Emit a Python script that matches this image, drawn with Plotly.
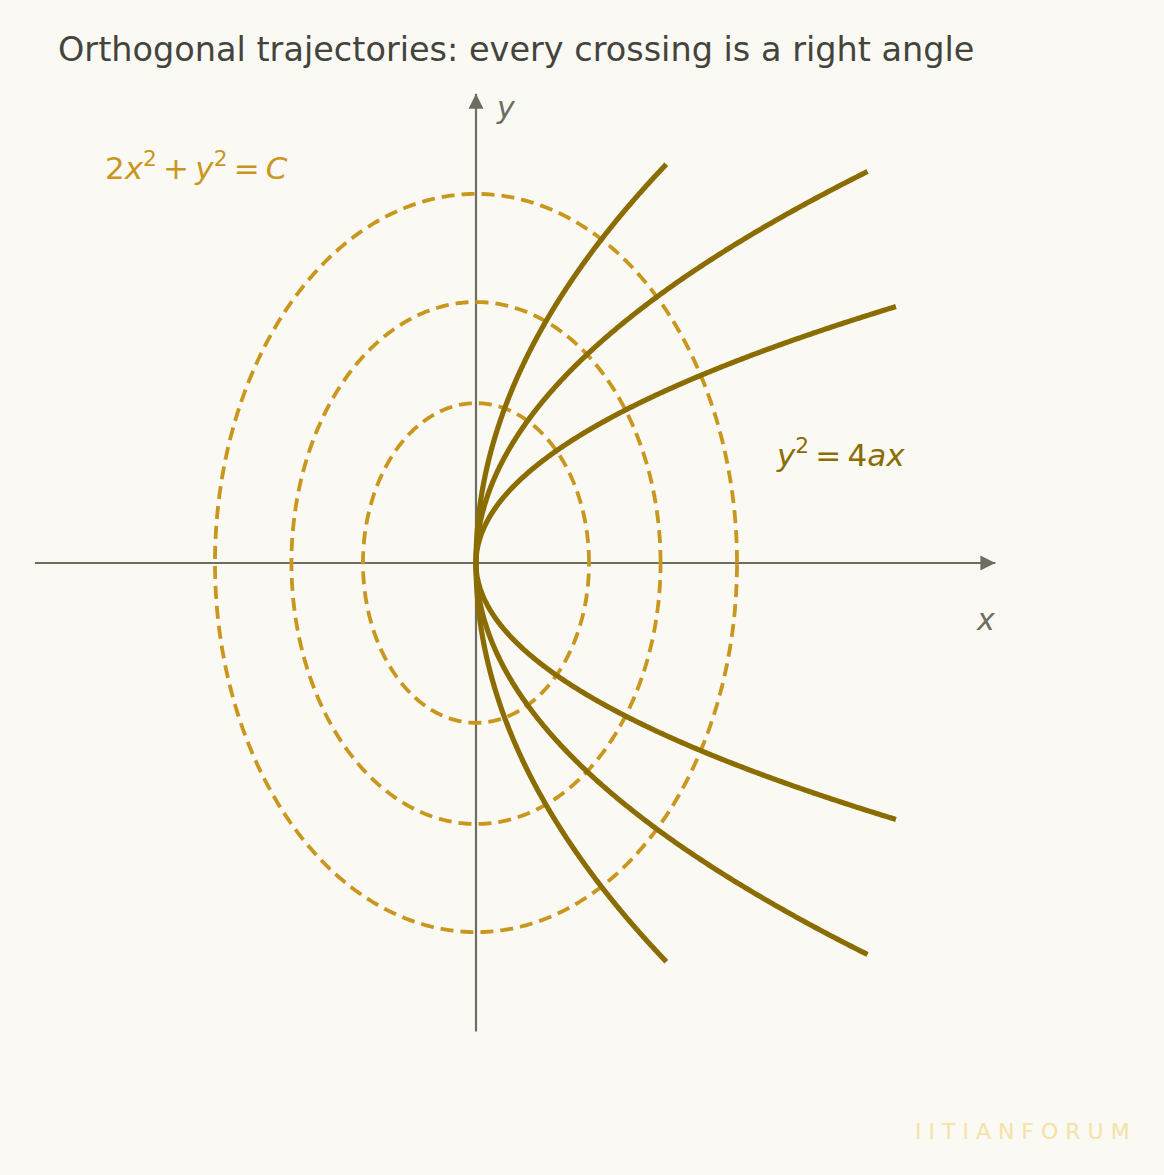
import numpy as np
import plotly.graph_objects as go

# ellipses 2x^2 + y^2 = C
ellipse_C = [1.5, 4.0, 8.0]
# parabolas y^2 = 4ax, each drawn for |y| <= y_end
parabola_a = [1.6, 0.75, 0.3]
parabola_y_end = [3.055, 3.0, 1.965]

# where the two axis lines start and stop
x_axis_span = [-3.38, 3.98]
y_axis_span = [-3.59, 3.595]

bg = "#faf9f4"
axis_grey = "#6e6e60"
ellipse_gold = "#c9961e"
parabola_olive = "#8a6c00"

# page geometry: 130.5 px per unit, origin at (476, 563) on the page
S = 130.5
W, H = 1164, 1175
OX, OY = 476, 563
TS = "\u2009"  # thin space, like the math spacing around + and =

fig = go.Figure()

# axes go in first so the curves are drawn over them
fig.add_trace(go.Scatter(x=x_axis_span, y=[0, 0], mode="lines",
                         line=dict(color=axis_grey, width=2.2), hoverinfo="skip"))
fig.add_trace(go.Scatter(x=[0, 0], y=y_axis_span, mode="lines",
                         line=dict(color=axis_grey, width=2.2), hoverinfo="skip"))

t = np.linspace(0, 2 * np.pi, 721)
for C in ellipse_C:
    fig.add_trace(go.Scatter(
        x=np.sqrt(C / 2) * np.cos(t), y=np.sqrt(C) * np.sin(t),
        mode="lines",
        line=dict(color=ellipse_gold, width=3.8, dash="13px,7px", simplify=False),
        hoverinfo="skip"))

for a, y_end in zip(parabola_a, parabola_y_end):
    y = np.linspace(-y_end, y_end, 601)
    fig.add_trace(go.Scatter(
        x=y ** 2 / (4 * a), y=y, mode="lines",
        line=dict(color=parabola_olive, width=5.2, simplify=False), hoverinfo="skip"))

arrow = dict(xref="x", yref="y", axref="x", ayref="y", text="", showarrow=True,
             arrowhead=2, arrowsize=1.5, arrowwidth=2, arrowcolor=axis_grey)

fig.update_layout(
    width=W, height=H,
    margin=dict(l=0, r=0, t=0, b=0, pad=0),
    paper_bgcolor=bg, plot_bgcolor=bg,
    showlegend=False,
    xaxis=dict(range=[-OX / S, (W - OX) / S], visible=False, fixedrange=True),
    yaxis=dict(range=[(OY - H) / S, OY / S], visible=False, fixedrange=True),
    font=dict(family="DejaVu Sans"),
    annotations=[
        dict(arrow, x=x_axis_span[1], y=0, ax=x_axis_span[1] - 0.3, ay=0),
        dict(arrow, x=0, y=y_axis_span[1], ax=0, ay=y_axis_span[1] - 0.3),
        dict(text="Orthogonal trajectories: every crossing is a right angle",
             xref="paper", yref="paper", x=56 / W, y=1 - 50 / H,
             xanchor="left", yanchor="middle", showarrow=False,
             font=dict(size=33.5, color="#44443c")),
        dict(text=f"2<i>x</i><sup>2</sup>{TS}+{TS}<i>y</i><sup>2</sup>{TS}={TS}<i>C</i>",
             xref="x", yref="y", x=(103 - OX) / S, y=(OY - 166) / S,
             xanchor="left", yanchor="middle", showarrow=False,
             font=dict(size=31, color=ellipse_gold)),
        dict(text=f"<i>y</i><sup>2</sup>{TS}={TS}4<i>ax</i>",
             xref="x", yref="y", x=(774 - OX) / S, y=(OY - 453) / S,
             xanchor="left", yanchor="middle", showarrow=False,
             font=dict(size=31, color=parabola_olive)),
        dict(text="<i>x</i>", xref="x", yref="y", x=3.908, y=-0.43,
             showarrow=False, font=dict(size=30, color=axis_grey)),
        dict(text="<i>y</i>", xref="x", yref="y", x=0.23, y=3.49,
             showarrow=False, font=dict(size=30, color=axis_grey)),
        dict(text="I I T I A N F O R U M", xref="paper", yref="paper",
             x=1132 / W, y=1 - 1131 / H,
             xanchor="right", yanchor="middle", showarrow=False,
             font=dict(size=22, color="#f5e2a5")),
    ],
)

fig.write_html("out.html", config={"displayModeBar": False},
               post_script="document.body.style.margin='0';")
